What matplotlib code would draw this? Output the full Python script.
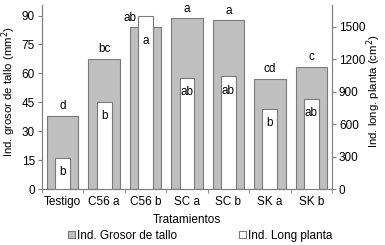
import matplotlib.pyplot as plt
import numpy as np

tratamientos = ["Testigo", "C56 a", "C56 b", "SC a", "SC b", "SK a", "SK b"]
grosor = [38, 67.5, 84, 88.5, 87.5, 57, 63.5]
long_planta = [285, 803, 1600, 1030, 1040, 738, 836]
letras_grosor = ["d", "bc", "ab", "a", "a", "cd", "c"]
letras_long = ["b", "b", "a", "ab", "ab", "b", "ab"]

plt.rcParams['font.family'] = ['Liberation Sans', 'DejaVu Sans']

fig = plt.figure(figsize=(3.85, 2.45), dpi=100)
ax = fig.add_axes([42/385, 1 - 189/245, 290/385, 184/245])
ax2 = ax.twinx()

x = np.arange(len(tratamientos))
b1 = ax.bar(x, grosor, width=0.76, color='#bfbfbf', edgecolor='#7a7a7a', linewidth=0.8,
            label='Ind. Grosor de tallo', zorder=2)
b2 = ax2.bar(x, long_planta, width=0.36, color='white', edgecolor='#7a7a7a', linewidth=0.8,
             label='Ind. Long planta', zorder=3)

ax.set_ylim(0, 95.5)
ax2.set_ylim(0, 1700)
ax.set_xlim(-0.5, len(tratamientos) - 0.5)
ax.set_yticks(np.arange(0, 91, 15))
ax2.set_yticks(np.arange(0, 1501, 300))

# letras sobre barras grises
for i, (v, l) in enumerate(zip(grosor, letras_grosor)):
    if long_planta[i] / 1700 * 95.5 > v:
        ax.text(i - 0.21, v + 1.5, l, ha='right', va='bottom', fontsize=8.5, zorder=5)
    else:
        ax.text(i, v + 2, l, ha='center', va='bottom', fontsize=8.5, zorder=5)

for i, (v, l) in enumerate(zip(long_planta, letras_long)):
    top = min(v, grosor[i] / 95.5 * 1700)
    ax2.text(i, top - 130, l, ha='center', va='center', fontsize=8.5, zorder=6)

for a in (ax, ax2):
    a.spines['top'].set_visible(False)
    for s in ('left', 'right', 'bottom'):
        a.spines[s].set_color('#808080')
        a.spines[s].set_linewidth(0.8)
    a.tick_params(axis='y', labelsize=8.5, length=3, color='#808080', pad=2)

ax.set_xticks(x)
ax.set_xticklabels(tratamientos, fontsize=8.5)
ax.set_xticks(np.arange(-0.5, len(tratamientos), 1), minor=True)
ax.tick_params(axis='x', which='major', length=0, pad=5)
ax.tick_params(axis='x', which='minor', length=3, color='#808080')

ax.set_ylabel('Ind. grosor de tallo (mm$^2$)', fontsize=8.2)
ax.yaxis.set_label_coords(-0.083, 0.53)
ax2.set_ylabel('Ind. long. planta (cm$^2$)', fontsize=8.2)
ax2.yaxis.set_label_coords(1.112, 0.53)
ax.set_xlabel('Tratamientos', fontsize=8.5, labelpad=4)

fig.legend([b1, b2], ['Ind. Grosor de tallo', 'Ind. Long planta'], loc='lower center',
           ncol=2, fontsize=8.5, frameon=False, handlelength=0.6, handleheight=0.6,
           handletextpad=0.2, columnspacing=5.2, bbox_to_anchor=(0.52, -0.03))

fig.savefig('out.png', dpi=100)
